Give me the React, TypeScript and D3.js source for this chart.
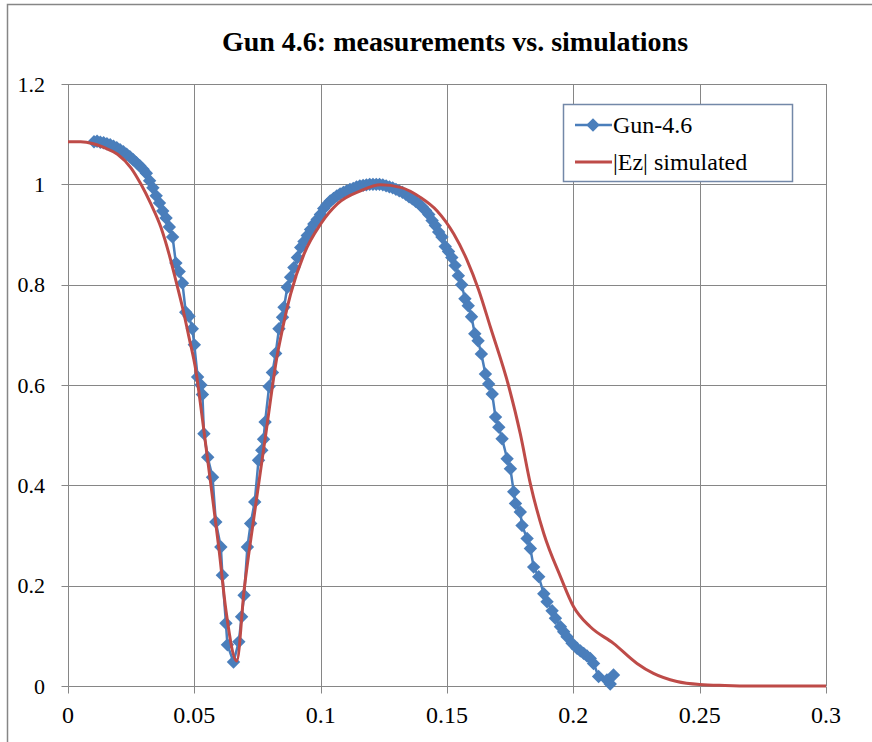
import React from 'react';
import * as d3 from 'd3';

// measured points (Gun-4.6)
const measX = [
  0.0103, 0.0115, 0.0128, 0.0141, 0.0154, 0.0167, 0.018, 0.0193, 0.0206, 0.0219,
  0.0232, 0.0245, 0.0258, 0.0271, 0.0284, 0.0297, 0.031, 0.0323, 0.0336, 0.0349,
  0.0362, 0.0375, 0.0388, 0.0401, 0.0414, 0.0427, 0.044, 0.0453, 0.0466, 0.0479,
  0.0492, 0.05, 0.0513, 0.0526, 0.0532, 0.0538, 0.0553, 0.0572, 0.0585, 0.0605,
  0.0611, 0.0625, 0.0631, 0.0655, 0.0676, 0.0687, 0.0697, 0.071, 0.0723, 0.0739,
  0.0754, 0.0767, 0.0774, 0.078, 0.0796, 0.0809, 0.0822, 0.0835, 0.0849, 0.0855,
  0.0868, 0.0881, 0.0894, 0.0908, 0.0921, 0.0934, 0.0947, 0.096, 0.0973, 0.0986,
  0.0999, 0.1012, 0.1025, 0.1038, 0.1051, 0.1064, 0.1077, 0.109, 0.1103, 0.1116,
  0.1129, 0.1142, 0.1155, 0.1168, 0.1181, 0.1194, 0.1207, 0.122, 0.1233, 0.1246,
  0.1259, 0.1272, 0.1285, 0.1298, 0.1311, 0.1324, 0.1337, 0.135, 0.1363, 0.1376,
  0.1389, 0.1402, 0.1415, 0.1428, 0.1441, 0.1454, 0.1467, 0.148, 0.1493, 0.1506,
  0.1519, 0.1532, 0.1545, 0.1558, 0.1571, 0.1584, 0.1597, 0.161, 0.1623, 0.1636,
  0.1652, 0.1665, 0.1679, 0.1692, 0.1705, 0.1718, 0.1738, 0.1751, 0.1764, 0.1771,
  0.179, 0.1797, 0.1817, 0.183, 0.1843, 0.1863, 0.1883, 0.1896, 0.1916, 0.1929,
  0.1949, 0.1962, 0.1975, 0.1995, 0.2015, 0.2028, 0.2041, 0.2054, 0.2067, 0.208,
  0.21, 0.2133, 0.2146, 0.2159,
];
const measY = [
  1.085, 1.086, 1.084, 1.083, 1.081, 1.079, 1.076, 1.073, 1.069, 1.065,
  1.06, 1.055, 1.049, 1.043, 1.037, 1.03, 1.022, 1.007, 0.993, 0.977,
  0.963, 0.947, 0.933, 0.915, 0.895, 0.843, 0.826, 0.803, 0.745, 0.737,
  0.712, 0.68, 0.616, 0.6, 0.581, 0.503, 0.456, 0.416, 0.327, 0.277,
  0.221, 0.125, 0.082, 0.048, 0.088, 0.138, 0.181, 0.277, 0.324, 0.367,
  0.45, 0.47, 0.492, 0.526, 0.597, 0.625, 0.663, 0.712, 0.735, 0.755,
  0.795, 0.815, 0.834, 0.854, 0.874, 0.886, 0.898, 0.91, 0.921, 0.93,
  0.94, 0.952, 0.96, 0.967, 0.972, 0.977, 0.981, 0.984, 0.987, 0.99,
  0.992, 0.995, 0.997, 0.998, 0.999, 1.0, 1.0, 1.0, 1.0, 0.999,
  0.997, 0.995, 0.993, 0.99, 0.987, 0.984, 0.98, 0.975, 0.971, 0.966,
  0.961, 0.955, 0.948, 0.94, 0.928, 0.918, 0.905, 0.895, 0.876, 0.866,
  0.854, 0.838, 0.818, 0.8, 0.772, 0.758, 0.736, 0.702, 0.688, 0.662,
  0.622, 0.602, 0.582, 0.536, 0.516, 0.493, 0.453, 0.433, 0.387, 0.364,
  0.347, 0.32, 0.294, 0.274, 0.237, 0.218, 0.184, 0.168, 0.15, 0.135,
  0.118, 0.108, 0.098, 0.085, 0.075, 0.07, 0.065, 0.06, 0.055, 0.045,
  0.019, 0.012, 0.004, 0.022,
];

// simulated |Ez|
const simX = [
  0, 0.005, 0.01, 0.0144, 0.0196, 0.0249, 0.0289, 0.0328, 0.0368, 0.04,
  0.0427, 0.0453, 0.0479, 0.0506, 0.053, 0.0565, 0.0598, 0.0625, 0.0668, 0.0697,
  0.0736, 0.0783, 0.0829, 0.0842, 0.0881, 0.0934, 0.1, 0.1066, 0.1158, 0.1237,
  0.1316, 0.1395, 0.1461, 0.1527, 0.158, 0.1625, 0.1672, 0.1745, 0.179, 0.183,
  0.1883, 0.1949, 0.2001, 0.2067, 0.2159, 0.2252, 0.2317, 0.241, 0.25, 0.26,
  0.27, 0.3,
];
const simY = [
  1.085, 1.085, 1.081, 1.073, 1.06, 1.033, 1.0, 0.961, 0.914, 0.861,
  0.808, 0.755, 0.695, 0.629, 0.54, 0.403, 0.271, 0.151, 0.05, 0.191,
  0.337, 0.503, 0.662, 0.695, 0.781, 0.861, 0.921, 0.961, 0.987, 0.999,
  0.994, 0.974, 0.947, 0.901, 0.848, 0.79, 0.715, 0.596, 0.503, 0.403,
  0.304, 0.218, 0.158, 0.118, 0.085, 0.045, 0.025, 0.009, 0.003, 0.001,
  0, 0,
];

const xTicks = [0, 0.05, 0.1, 0.15, 0.2, 0.25, 0.3];
const yTicks = [0, 0.2, 0.4, 0.6, 0.8, 1, 1.2];
const seriesNames = ['Gun-4.6', '|Ez| simulated'];
const title = 'Gun 4.6: measurements vs. simulations';

const BLUE = '#4A7EBB';
const RED = '#BE4B48';
const GRID = '#868686';
const FONT = 'Liberation Serif';

const width = 872, height = 742;
const x = d3.scaleLinear().domain([0, 0.3]).range([68, 826]);
const y = d3.scaleLinear().domain([0, 1.2]).range([686, 84]);
const fmt = d3.format('');
const px = (v: number) => Math.round(v) + 0.5;

const meas = measX.map((v, i) => [v, measY[i]] as [number, number]);
const sim = simX.map((v, i) => [v, simY[i]] as [number, number]);
const measLine = d3.line<[number, number]>().x(d => x(d[0])).y(d => y(d[1]));
const simLine = d3.line<[number, number]>().x(d => x(d[0])).y(d => y(d[1])).curve(d3.curveMonotoneX);
const diamond = d3.symbol(d3.symbolSquare, 90)() as string;

const App = () => {
  const x0 = px(x(0));
  const y0 = px(y(0));
  return (
    <svg width={width} height={height} style={{ position: 'absolute', left: 0, top: 0 }} fontFamily={FONT}>
      <rect x={0} y={0} width={width} height={height} fill="#fff" />
      <rect x={7.5} y={4.5} width={900} height={800} fill="none" stroke={GRID} strokeWidth={1.5} />

      <text x={455} y={51} textAnchor="middle" fontSize={28} fontWeight="bold">{title}</text>

      {/* gridlines */}
      {xTicks.slice(1).map(t => (
        <line key={'gx' + t} x1={px(x(t))} x2={px(x(t))} y1={y(1.2)} y2={y(0)} stroke={GRID} strokeWidth={1} />
      ))}
      {yTicks.slice(1).map(t => (
        <line key={'gy' + t} x1={x(0)} x2={x(0.3)} y1={px(y(t))} y2={px(y(t))} stroke={GRID} strokeWidth={1} />
      ))}

      {/* axes */}
      <line x1={x0} x2={x0} y1={y(1.2)} y2={y0} stroke={GRID} />
      <line x1={x0} x2={x(0.3)} y1={y0} y2={y0} stroke={GRID} />
      {yTicks.map(t => (
        <g key={'ty' + t}>
          <line x1={x0 - 7} x2={x0} y1={px(y(t))} y2={px(y(t))} stroke={GRID} />
          <text x={45} y={y(t) + 7.5} textAnchor="end" fontSize={22}>{fmt(t)}</text>
        </g>
      ))}
      {xTicks.map(t => (
        <g key={'tx' + t}>
          <line x1={px(x(t))} x2={px(x(t))} y1={y0} y2={y0 + 7} stroke={GRID} />
          <text x={x(t)} y={723} textAnchor="middle" fontSize={24}>{fmt(t)}</text>
        </g>
      ))}

      {/* measured */}
      <path d={measLine(meas) || ''} fill="none" stroke={BLUE} strokeWidth={2.5} />
      {meas.map((d, i) => (
        <path key={'m' + i} d={diamond} transform={`translate(${x(d[0])},${y(d[1])}) rotate(45)`} fill={BLUE} />
      ))}

      {/* simulated */}
      <path d={simLine(sim) || ''} fill="none" stroke={RED} strokeWidth={3} />

      {/* legend */}
      <rect x={563.5} y={104.5} width={229} height={77} fill="#fff" stroke="#7388A8" strokeWidth={1.5} />
      <line x1={575} x2={612} y1={125} y2={125} stroke={BLUE} strokeWidth={2.5} />
      <path d={diamond} transform="translate(593,125) rotate(45)" fill={BLUE} />
      <text x={613} y={133} fontSize={24}>{seriesNames[0]}</text>
      <line x1={575} x2={612} y1={162} y2={162} stroke={RED} strokeWidth={3} />
      <text x={613} y={170} fontSize={24}>{seriesNames[1]}</text>
    </svg>
  );
};

export default App;
